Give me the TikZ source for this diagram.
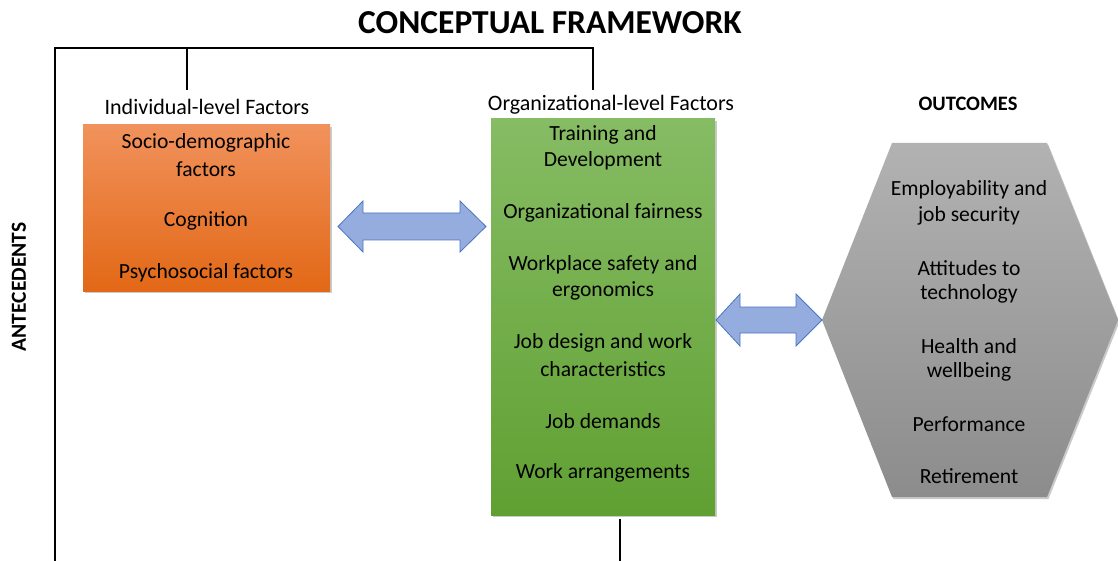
\documentclass[tikz,border=0pt]{standalone}
\usepackage{fontspec}
\setmainfont{Carlito}
\usetikzlibrary{shadows}
\definecolor{arrowfill}{HTML}{95ACDE}
\definecolor{arrowline}{HTML}{4A74C4}
\begin{document}
\begin{tikzpicture}[x=1pt,y=-1pt,
  item/.style={font=\fontsize{21.6}{26}\selectfont, text=black, inner sep=0pt, anchor=center},
  head/.style={font=\fontsize{22}{26}\selectfont, inner sep=0pt, anchor=center},
  frame/.style={line width=1.6pt, black},
  blockarrow/.style={fill=arrowfill, draw=arrowline, line width=0.8pt, line join=miter},
  boxshadow/.style={drop shadow={shadow xshift=1.5pt, shadow yshift=-2pt, opacity=0.35, fill=black!60}}]
\useasboundingbox (0,0) rectangle (1118,561);

% title and side labels
\node[font=\fontsize{33.5}{38}\selectfont\bfseries, inner sep=0pt] (title) at (550,23) {CONCEPTUAL FRAMEWORK};
\node[font=\fontsize{21.5}{24}\selectfont\bfseries, inner sep=0pt, rotate=90] (ante) at (19,287) {ANTECEDENTS};
\node[head] (indlabel) at (207,107) {Individual-level Factors};
\node[head] (orglabel) at (611,105) {Organizational-level Factors};
\node[font=\fontsize{20.5}{24}\selectfont\bfseries, inner sep=0pt] (outlabel) at (968,104) {OUTCOMES};

% bracket lines
\coordinate (c1) at (55,561);
\coordinate (c2) at (55,48);
\coordinate (c3) at (593,48);
\coordinate (c4) at (593,90);
\coordinate (c5) at (187,48);
\coordinate (c6) at (187,90);
\coordinate (c7) at (620,519);
\coordinate (c8) at (620,561);
\draw[frame] (c1) -- (c2) -- (c3) -- (c4);
\draw[frame] (c5) -- (c6);
\draw[frame] (c7) -- (c8);

% individual-level box
\path[boxshadow, top color={rgb,255:red,241;green,146;blue,92}, bottom color={rgb,255:red,226;green,104;blue,22}]
  (83,125) rectangle (330,291);
\node (indbox) at (206.5,208) [minimum width=247pt, minimum height=166pt] {};
\node[item] (i1) at (206,143) {Socio-demographic};
\node[item] (i2) at (206,169) {factors};
\node[item] (i3) at (206,221) {Cognition};
\node[item] (i4) at (206,273) {Psychosocial factors};

% organizational-level box
\path[boxshadow, top color={rgb,255:red,134;green,188;blue,100}, bottom color={rgb,255:red,96;green,160;blue,50}]
  (491,119) rectangle (715,515);
\node (orgbox) at (603,317) [minimum width=224pt, minimum height=396pt] {};
\node[item] (o1) at (603,135) {Training and};
\node[item] (o2) at (603,161) {Development};
\node[item] (o3) at (603,213) {Organizational fairness};
\node[item] (o4) at (603,265) {Workplace safety and};
\node[item] (o5) at (603,291) {ergonomics};
\node[item] (o6) at (603,343) {Job design and work};
\node[item] (o7) at (603,369) {characteristics};
\node[item] (o8) at (603,421) {Job demands};
\node[item] (o9) at (603,473) {Work arrangements};

% outcomes hexagon
\path[boxshadow, top color={rgb,255:red,178;green,178;blue,178}, bottom color={rgb,255:red,140;green,140;blue,140}]
  (822,320) -- (892,143) -- (1047,143) -- (1118,320) -- (1047,497) -- (892,497) -- cycle;
\node (outbox) at (970,320) [minimum width=296pt, minimum height=354pt] {};
\node[item] (u1) at (969,190) {Employability and};
\node[item] (u2) at (969,216) {job security};
\node[item] (u3) at (969,268) {Attitudes to};
\node[item] (u4) at (969,294) {technology};
\node[item] (u5) at (969,346) {Health and};
\node[item] (u6) at (969,372) {wellbeing};
\node[item] (u7) at (969,424) {Performance};
\node[item] (u8) at (969,476) {Retirement};

% block double arrows
\path[blockarrow] (338,226.5) -- (363,201) -- (363,213) -- (460,213) -- (460,201) -- (486,226.5)
  -- (460,252) -- (460,240) -- (363,240) -- (363,252) -- cycle;
\path[blockarrow] (716,320) -- (740,294) -- (740,307) -- (796,307) -- (796,294) -- (822,320)
  -- (796,346) -- (796,333) -- (740,333) -- (740,346) -- cycle;
\end{tikzpicture}
\end{document}
